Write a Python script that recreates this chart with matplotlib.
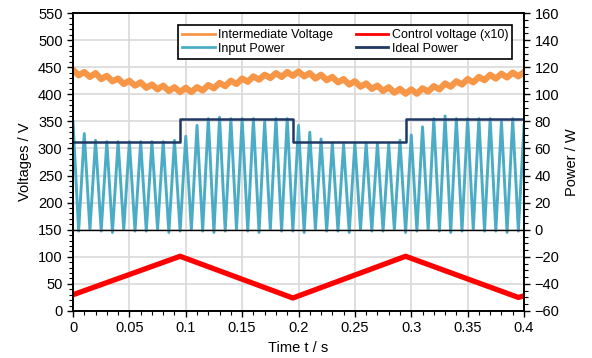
import numpy as np
import matplotlib.pyplot as plt
from matplotlib.ticker import MultipleLocator

plt.rcParams['font.family'] = ['Liberation Sans', 'DejaVu Sans']

# --- datos ---
x_ticks = [0, 0.05, 0.1, 0.15, 0.2, 0.25, 0.3, 0.35, 0.4]
x_labels = ["0", "0.05", "0.1", "0.15", "0.2", "0.25", "0.3", "0.35", "0.4"]

# tension intermedia (V), cada 5 ms
t_vint = np.linspace(0, 0.4, 81)
v_int = [445, 435, 441, 432, 439, 428, 434, 424, 429, 419,
         425, 416, 422, 412, 418, 409, 416, 406, 413, 404,
         412, 404, 413, 407, 417, 411, 421, 415, 425, 419,
         429, 423, 433, 427, 436, 430, 439, 432, 441, 434,
         442, 433, 439, 429, 436, 426, 432, 422, 428, 418,
         424, 414, 420, 410, 416, 406, 413, 403, 410, 401,
         409, 401, 411, 405, 415, 409, 420, 414, 424, 418,
         428, 422, 432, 426, 436, 429, 438, 431, 440, 433,
         441]

# tension de control x10 (V)
t_ctrl = [0, 0.095, 0.195, 0.295, 0.395, 0.4]
v_ctrl = [30, 101, 24, 101, 25, 28]

# potencia de entrada (W): maximos cada 10 ms, minimos entre ellos
p_peaks = [80, 71, 66, 65, 65, 65, 65, 65, 65, 66,
           69, 77, 82, 83, 82, 82, 82, 80, 82, 82,
           77, 72, 67, 64, 63, 64, 64, 64, 63, 66,
           70, 76, 82, 84, 82, 82, 82, 82, 80, 82,
           77]
p_troughs = [-1, 0, -1, -2, 0, -1, -1, 0, -2, -1,
             0, -1, -2, -1, 0, -1, -2, 0, -1, -1,
             -2, 0, -1, -1, -2, 0, -1, -1, 0, -2,
             -1, 0, -1, -2, -1, 0, -1, -1, -2, -1]

# potencia ideal (W)
t_ideal = [0, 0.095, 0.195, 0.295, 0.4]
p_ideal = [65, 82, 65, 82, 82]

# intercalamos maximos y minimos
t_pin = np.linspace(0, 0.4, 81)
p_in = np.empty(81)
p_in[0::2] = p_peaks
p_in[1::2] = p_troughs

# --- grafico ---
fig = plt.figure(figsize=(5.92, 3.58), dpi=100)
ax = fig.add_axes([73 / 592, 1 - 311 / 358, 451 / 592, 298 / 358])
ax2 = ax.twinx()

l1, = ax.plot(t_vint, v_int, color="#F79646", linewidth=4.5, label="Intermediate Voltage")
l2, = ax.plot(t_ctrl, v_ctrl, color="#FF0000", linewidth=3.8, label="Control voltage (x10)")
l3, = ax2.plot(t_pin, p_in, color="#4BACC6", linewidth=2.1, label="Input Power")
l4, = ax2.plot(t_ideal, p_ideal, color="#1F3864", linewidth=1.8,
               drawstyle="steps-post", label="Ideal Power")
ax2.axhline(0, color="black", linewidth=1)

ax.set_xlim(0, 0.4)
ax.set_ylim(0, 550)
ax2.set_ylim(-60, 160)
ax.set_xticks(x_ticks)
ax.set_xticklabels(x_labels)
ax.set_yticks(np.arange(0, 551, 50))
ax2.set_yticks(np.arange(-60, 161, 20))
ax.xaxis.set_minor_locator(MultipleLocator(0.01))
ax.yaxis.set_minor_locator(MultipleLocator(10))
ax2.yaxis.set_minor_locator(MultipleLocator(5))

ax.grid(True, color="#D9D9D9", linewidth=1.2)
ax.set_axisbelow(True)

for a in (ax, ax2):
    a.tick_params(which="major", direction="out", length=4, width=1, labelsize=10.5)
    a.tick_params(which="minor", direction="out", length=3, width=0.8)
    for s in a.spines.values():
        s.set_color("black")
        s.set_linewidth(1.2)

ax.set_xlabel("Time t / s", fontsize=10.5, labelpad=4)
ax.set_ylabel("Voltages / V", fontsize=10.5)
ax2.set_ylabel("Power / W", fontsize=10.5)

leg = ax2.legend(handles=[l1, l3, l2, l4], ncol=2, loc="upper left",
                 bbox_to_anchor=(0.22, 0.98), fontsize=9, frameon=True,
                 fancybox=False, edgecolor="black", framealpha=1,
                 handlelength=2.6, columnspacing=1.8, borderpad=0.3,
                 labelspacing=0.15, handletextpad=0.3)
leg.get_frame().set_linewidth(1.2)
for h in leg.get_lines():
    h.set_linewidth(2)

fig.savefig("out.png", dpi=100)
